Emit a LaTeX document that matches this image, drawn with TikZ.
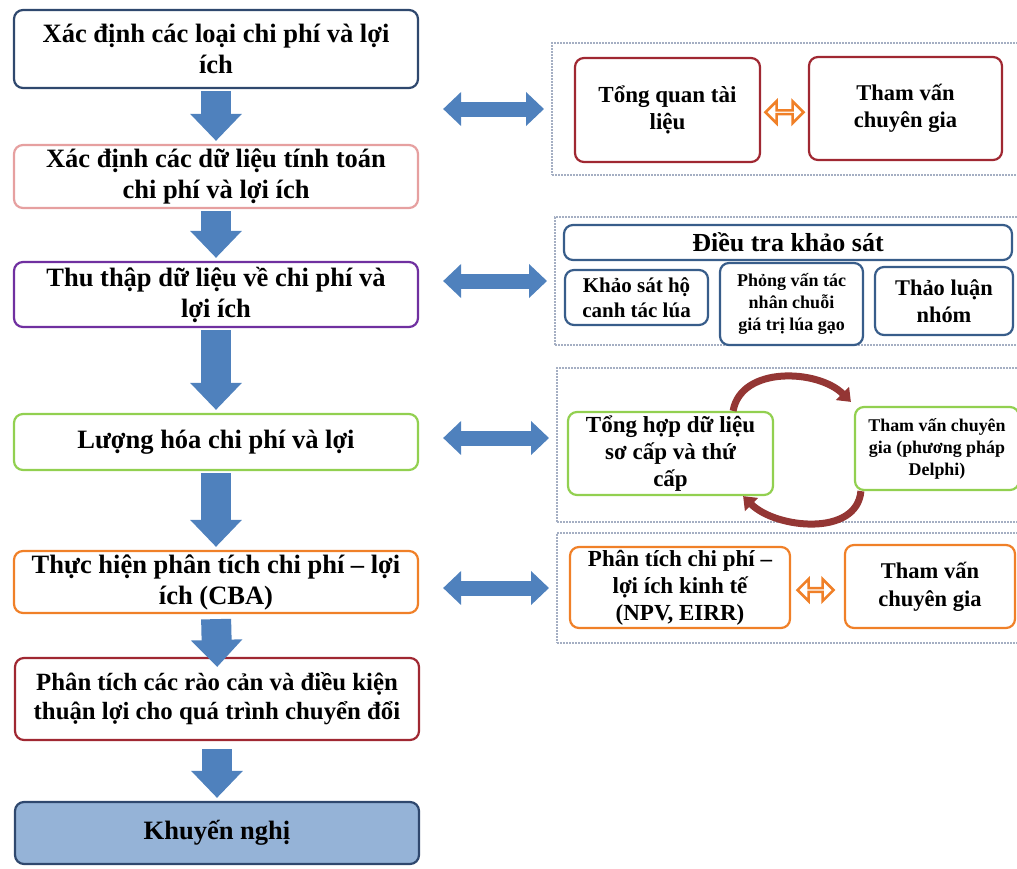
\documentclass[tikz,border=0pt]{standalone}
\usepackage{fontspec}
\setmainfont{Liberation Serif}
\usetikzlibrary{arrows.meta,shapes.arrows,calc}

\definecolor{navyline}{RGB}{47,72,110}
\definecolor{pinkline}{RGB}{230,160,160}
\definecolor{purpleline}{RGB}{112,48,160}
\definecolor{greenline}{RGB}{146,208,80}
\definecolor{orangeline}{RGB}{240,128,40}
\definecolor{redline}{RGB}{160,40,50}
\definecolor{blueline}{RGB}{56,93,138}
\definecolor{arrowblue}{RGB}{79,129,189}
\definecolor{arcred}{RGB}{148,54,52}
\definecolor{panelgray}{RGB}{165,175,195}
\definecolor{endfill}{RGB}{149,179,215}

\tikzset{
  mainbox/.style={draw, line width=2.2pt, rounded corners=9pt, fill=white,
    minimum width=404pt, align=center, inner sep=2pt,
    font=\bfseries\fontsize{26.5}{31}\selectfont},
  subbox/.style={draw, line width=2.2pt, rounded corners=9pt, fill=white,
    align=center, inner sep=1pt, font=\bfseries\fontsize{23}{27}\selectfont},
  panel/.style={draw=panelgray, line width=2pt, densely dotted},
  downarrow/.style={arrowblue, line width=30pt, shorten <=2pt, shorten >=3pt,
    -{Triangle[width=50pt,length=27pt]}},
  sidearrow/.style={arrowblue, line width=15pt, shorten <=24pt, shorten >=7pt,
    {Triangle[width=33pt,length=18pt]}-{Triangle[width=33pt,length=18pt]}},
  swaparrow/.style={double arrow, draw=orangeline, fill=white, line width=2.5pt,
    minimum height=38pt, minimum width=22pt, double arrow head extend=6pt, inner sep=0pt},
  cyclearrow/.style={arcred, line width=7pt, -{Triangle[width=18pt,length=12pt]}}
}

\begin{document}
\begin{tikzpicture}[x=1pt,y=1pt]
    \useasboundingbox (0,0) rectangle (1017,-868);

    % Main steps
    \node[mainbox, draw=navyline, minimum height=78pt] (b1) at (216,-49)
        {Xác định các loại chi phí và lợi\\ích};
    \node[mainbox, draw=pinkline, minimum height=63pt] (b2) at (216,-176.5)
        {Xác định các dữ liệu tính toán\\chi phí và lợi ích};
    \node[mainbox, draw=purpleline, minimum height=65pt] (b3) at (216,-294.5)
        {Thu thập dữ liệu về chi phí và\\lợi ích};
    \node[mainbox, draw=greenline, minimum height=56pt] (b4) at (216,-442)
        {Lượng hóa chi phí và lợi};
    \node[mainbox, draw=orangeline, minimum height=62pt] (b5) at (216,-582)
        {Thực hiện phân tích chi phí – lợi\\ích (CBA)};
    \node[mainbox, draw=redline, minimum height=82pt,
        font=\bfseries\fontsize{24.8}{29}\selectfont] (b6) at (217,-699)
        {Phân tích các rào cản và điều kiện\\thuận lợi cho quá trình chuyển đổi};
    \node[mainbox, draw=navyline, fill=endfill, minimum height=62pt] (b7) at (217,-833)
        {Khuyến nghị};

    % Arrows between steps
    \draw[downarrow] (b1.south) -- (b2.north);
    \draw[downarrow] (b2.south) -- (b3.north);
    \draw[downarrow] (b3.south) -- (b4.north);
    \draw[downarrow] (b4.south) -- (b5.north);
    \draw[downarrow, shorten <=5pt, shorten >=-10pt] (b5.south) -- (b6.north);
    \draw[downarrow, shorten <=8pt] (b6.south) -- (b7.north);

    % Panel A: literature and experts
    \node[panel, minimum width=470pt, minimum height=132pt] (pA) at (787,-109) {};
    \node[subbox, draw=redline, minimum width=185pt, minimum height=104pt] (t1) at (667.5,-110)
        {Tổng quan tài\\liệu};
    \node[subbox, draw=redline, minimum width=193pt, minimum height=103pt,
        font=\bfseries\fontsize{22.5}{27}\selectfont] (t2) at (905.5,-108.5) {Tham vấn\\chuyên gia};
    \node[swaparrow] (tx) at ($(t1.east)!0.5!(t2.west)+(0,-3)$) {};

    % Panel B: survey
    \node[panel, minimum width=467pt, minimum height=128pt] (pB) at (788.5,-281) {};
    \node[subbox, draw=blueline, minimum width=448pt, minimum height=35pt,
        font=\bfseries\fontsize{26}{28}\selectfont] (s0) at (788,-242.5) {Điều tra khảo sát};
    \node[subbox, draw=blueline, minimum width=143pt, minimum height=55pt,
        font=\bfseries\fontsize{21}{25}\selectfont] (s1) at (636.5,-297.5) {Khảo sát hộ\\canh tác lúa};
    \node[subbox, draw=blueline, minimum width=143pt, minimum height=82pt,
        font=\bfseries\fontsize{18}{22}\selectfont] (s2) at (791.5,-304) {Phỏng vấn tác\\nhân chuỗi\\giá trị lúa gạo};
    \node[subbox, draw=blueline, minimum width=138pt, minimum height=68pt,
        font=\bfseries\fontsize{22.4}{27}\selectfont] (s3) at (944,-301) {Thảo luận\\nhóm};

    % Panel C: synthesis with Delphi
    \node[panel, minimum width=465pt, minimum height=154pt] (pC) at (789.5,-445) {};
    \node[subbox, draw=greenline, minimum width=205pt, minimum height=83pt] (c1) at (670.5,-453.5)
        {Tổng hợp dữ liệu\\sơ cấp và thứ\\cấp};
    \node[subbox, draw=greenline, minimum width=164pt, minimum height=83pt,
        font=\bfseries\fontsize{17.9}{22}\selectfont] (c2) at (937,-448.5)
        {Tham vấn chuyên\\gia (phương pháp\\Delphi)};
    \draw[cyclearrow] ([xshift=-41pt]c1.north east) to[out=80,in=135] ([shift={(-3pt,4pt)}]c2.north west);
    \draw[cyclearrow] ([xshift=7pt]c2.south west) to[out=-95,in=-45] ([xshift=-31pt]c1.south east);

    % Panel D: economic CBA
    \node[panel, minimum width=465pt, minimum height=110pt] (pD) at (789.5,-588) {};
    \node[subbox, draw=orangeline, minimum width=220pt, minimum height=81pt] (d1) at (680,-587.5)
        {Phân tích chi phí –\\lợi ích kinh tế\\(NPV, EIRR)};
    \node[subbox, draw=orangeline, minimum width=170pt, minimum height=83pt,
        font=\bfseries\fontsize{22.5}{28}\selectfont] (d2) at (930,-586.5) {Tham vấn\\chuyên gia};
    \node[swaparrow, minimum height=36pt] (dx) at ($(d1.east)!0.5!(d2.west)+(-2,-3)$) {};

    % Links from steps to panels
    \draw[sidearrow] (b1.east |- pA.west) -- (pA.west);
    \draw[sidearrow] (b3.east |- pB.west) -- (pB.west);
    \draw[sidearrow] ([yshift=7pt]b4.east |- pC.west) -- ([yshift=7pt]pC.west);
    \draw[sidearrow] (b5.east |- pD.west) -- (pD.west);
\end{tikzpicture}
\end{document}
